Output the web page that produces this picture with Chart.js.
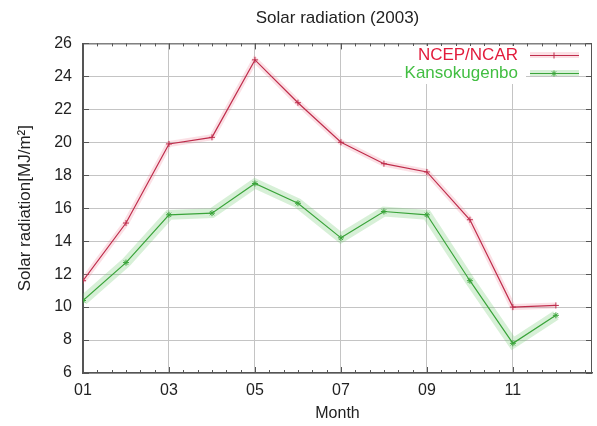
<!DOCTYPE html>
<html>
<head>
<meta charset="utf-8">
<title>Solar radiation (2003)</title>
<script src="https://cdn.jsdelivr.net/npm/chart.js@4/dist/chart.umd.min.js"></script>
<style>
  html, body { margin: 0; padding: 0; background: #fff; }
  #wrap { width: 597px; height: 426px; }
</style>
</head>
<body>
<div id="wrap"><canvas id="chart" width="597" height="426"></canvas></div>
<script>
// Monthly solar radiation, MJ/m^2
const months = [1, 2, 3, 4, 5, 6, 7, 8, 9, 10, 11, 12];
const ncepNcar = [11.6, 15.1, 19.9, 20.3, 25.0, 22.4, 20.0, 18.7, 18.2, 15.3, 10.0, 10.1];
const kansokugenbo = [10.4, 12.7, 15.6, 15.7, 17.5, 16.3, 14.2, 15.8, 15.6, 11.6, 7.8, 9.5];
const monthTicks = [1, 3, 5, 7, 9, 11];
const seriesNames = ['NCEP/NCAR', 'Kansokugenbo'];

const RED = '#bf2d4c';
const GREEN = '#3aa43a';

const toPoints = vals => months.map((m, i) => ({ x: m, y: vals[i] }));

// gnuplot-style box, inward ticks and minor x ticks
const framePlugin = {
  id: 'frame',
  beforeDatasetsDraw(chart) {
    const { ctx, chartArea: a, scales: { x, y } } = chart;
    ctx.save();
    ctx.strokeStyle = '#555';
    ctx.lineWidth = 1;
    ctx.strokeRect(a.left + 0.5, a.top + 0.5, a.right - a.left - 1, a.bottom - a.top - 1);
    ctx.beginPath();
    for (let v = y.min; v <= y.max; v += 2) {
      const py = Math.round(y.getPixelForValue(v)) + 0.5;
      ctx.moveTo(a.left, py); ctx.lineTo(a.left + 6, py);
      ctx.moveTo(a.right, py); ctx.lineTo(a.right - 6, py);
    }
    for (let k = 0; 1 + k / 3 <= x.max; k++) {
      const v = 1 + k / 3;
      const len = k % 6 === 0 ? 6 : 3;
      const px = Math.round(x.getPixelForValue(v)) + 0.5;
      ctx.moveTo(px, a.bottom); ctx.lineTo(px, a.bottom - len);
      ctx.moveTo(px, a.top); ctx.lineTo(px, a.top + len);
    }
    ctx.stroke();
    ctx.restore();
  }
};

function drawMarker(ctx, style, cx, cy, r) {
  ctx.beginPath();
  ctx.moveTo(cx - r, cy); ctx.lineTo(cx + r, cy);
  ctx.moveTo(cx, cy - r); ctx.lineTo(cx, cy + r);
  if (style === 'star') {
    ctx.moveTo(cx - r * 0.7, cy - r * 0.7); ctx.lineTo(cx + r * 0.7, cy + r * 0.7);
    ctx.moveTo(cx - r * 0.7, cy + r * 0.7); ctx.lineTo(cx + r * 0.7, cy - r * 0.7);
  }
  ctx.stroke();
}

// legend inside the top right corner, text right-aligned before the sample
const keyPlugin = {
  id: 'key',
  afterDatasetsDraw(chart) {
    const { ctx } = chart;
    const rows = chart.data.datasets.filter(d => d.keyColor);
    ctx.save();
    ctx.fillStyle = '#fff';
    ctx.fillRect(402, 46, 124, 38);
    ctx.font = '17px "Liberation Sans", Arial, sans-serif';
    ctx.textAlign = 'right';
    ctx.textBaseline = 'middle';
    rows.forEach((d, i) => {
      const ty = 55 + i * 18;
      ctx.fillStyle = d.keyColor;
      ctx.fillText(d.label, 518, ty);
      ctx.strokeStyle = d.haloColor;
      ctx.lineWidth = 6;
      ctx.beginPath(); ctx.moveTo(530, ty); ctx.lineTo(579, ty); ctx.stroke();
      ctx.strokeStyle = d.borderColor;
      ctx.lineWidth = 1;
      ctx.beginPath(); ctx.moveTo(530, ty + 0.5); ctx.lineTo(579, ty + 0.5); ctx.stroke();
      drawMarker(ctx, d.pointStyle, 554, ty + 0.5, 3);
    });
    ctx.restore();
  }
};

const series = [
  { name: seriesNames[0], values: ncepNcar, color: RED, halo: 'rgba(240, 130, 150, 0.25)', key: '#e21c3c', point: 'cross' },
  { name: seriesNames[1], values: kansokugenbo, color: GREEN, halo: 'rgba(110, 200, 110, 0.28)', key: '#42be42', point: 'star' }
];

const datasets = [];
series.forEach(s => {
  datasets.push({
    label: s.name,
    data: toPoints(s.values),
    borderColor: s.color,
    backgroundColor: s.color,
    borderWidth: 1.2,
    pointStyle: s.point,
    pointRadius: 3,
    pointBorderWidth: 1,
    pointBorderColor: s.color,
    tension: 0,
    order: 0,
    keyColor: s.key,
    haloColor: s.halo
  });
  datasets.push({
    label: '',
    data: toPoints(s.values),
    borderColor: s.halo,
    borderWidth: s.point === 'star' ? 10 : 6,
    pointRadius: 0,
    tension: 0,
    order: 1
  });
});

new Chart(document.getElementById('chart'), {
  type: 'line',
  data: { datasets },
  options: {
    responsive: false,
    animation: false,
    devicePixelRatio: 1,
    layout: { padding: { left: 0, right: 5, top: 0, bottom: 0 } },
    plugins: {
      legend: { display: false },
      tooltip: { enabled: false },
      title: {
        display: true,
        fullSize: false,
        text: 'Solar radiation (2003)',
        color: '#222',
        font: { family: '"Liberation Sans", Arial, sans-serif', size: 17, weight: 'normal' },
        padding: { top: 8, bottom: 15 }
      }
    },
    scales: {
      x: {
        type: 'linear',
        min: 1,
        max: 12.84,
        afterBuildTicks: scale => { scale.ticks = monthTicks.map(v => ({ value: v })); },
        afterFit: scale => { scale.height = 53; },
        ticks: {
          color: '#222',
          padding: 8,
          maxRotation: 0,
          font: { family: '"Liberation Sans", Arial, sans-serif', size: 16 },
          callback: v => String(v).padStart(2, '0')
        },
        grid: { color: '#c4c4c4', drawTicks: false },
        border: { color: '#555', width: 1.5 },
        title: {
          display: true,
          text: 'Month',
          color: '#222',
          font: { family: '"Liberation Sans", Arial, sans-serif', size: 16 },
          padding: { top: 0, bottom: 3 }
        }
      },
      y: {
        min: 6,
        max: 26,
        afterFit: scale => { scale.width = 83; },
        ticks: {
          stepSize: 2,
          color: '#222',
          padding: 11,
          font: { family: '"Liberation Sans", Arial, sans-serif', size: 16 }
        },
        grid: { color: '#c4c4c4', drawTicks: false },
        border: { color: '#555', width: 1.5 },
        title: {
          display: true,
          text: 'Solar radiation[MJ/m²]',
          color: '#222',
          font: { family: '"Liberation Sans", Arial, sans-serif', size: 17 },
          padding: { top: 15, bottom: 0 }
        }
      }
    }
  },
  plugins: [framePlugin, keyPlugin]
});
</script>
</body>
</html>
